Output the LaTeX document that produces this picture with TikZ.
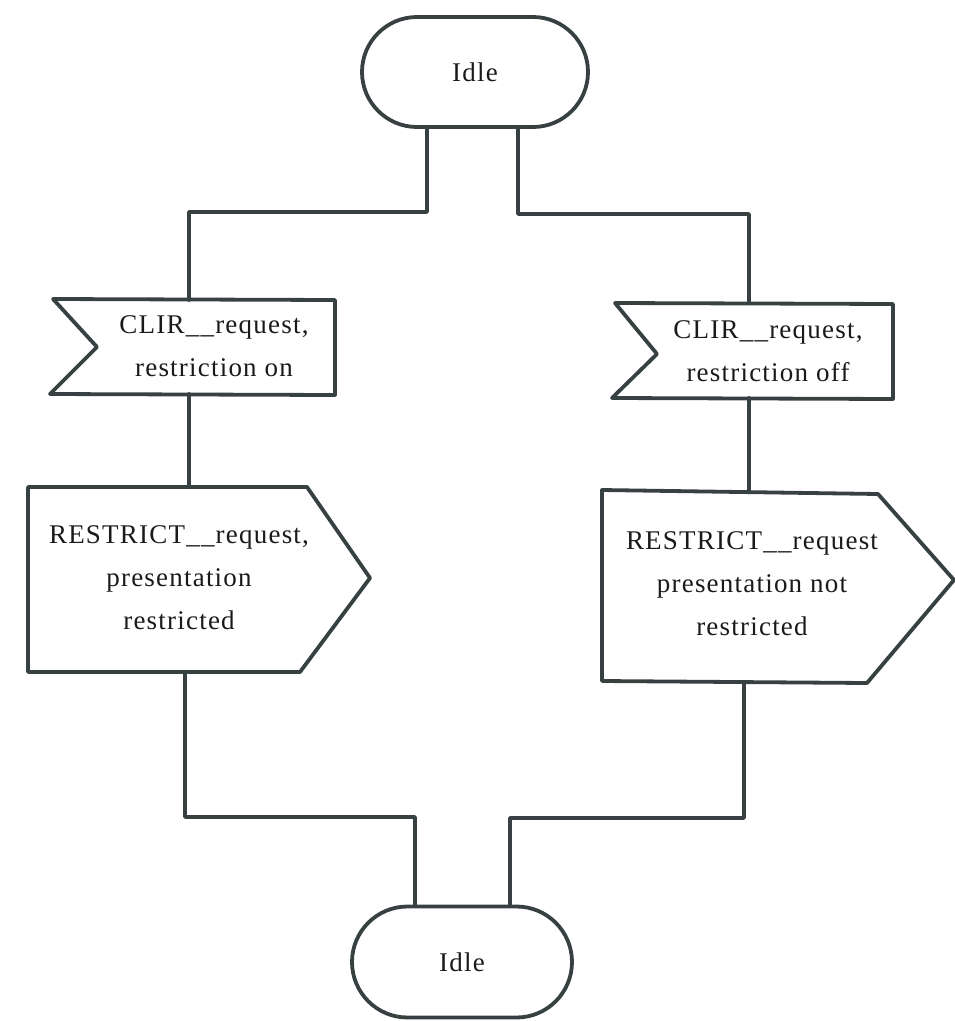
\documentclass[tikz,border=0pt]{standalone}
\usepackage{fontspec}
\setmainfont{Liberation Serif}
\newfontfamily\spaced[LetterSpace=4.5]{Liberation Serif}
\usetikzlibrary{shapes.misc}
\definecolor{ink}{RGB}{55,65,65}
\definecolor{txt}{RGB}{25,27,27}
\begin{document}
\begin{tikzpicture}[x=1pt,y=-1pt,
  line/.style={draw=ink,line width=3.8pt,line join=round,line cap=round},
  state/.style={rounded rectangle, draw=ink, line width=3.8pt, text=txt,
    font=\spaced\fontsize{27}{33}\selectfont, inner sep=0pt},
  lbl/.style={font=\spaced\fontsize{27}{43}\selectfont, text=txt, align=center, inner sep=0pt}]
\useasboundingbox (0,0) rectangle (955,1021);

% states
\node[state, minimum width=226pt, minimum height=110pt] (idle1) at (475,72) {Idle};
\node[state, minimum width=220pt, minimum height=111pt] (idle2) at (462,962) {Idle};

% left input signal
\draw[line] (53,299) -- (335,300) -- (335,395) -- (50,394) -- (97,347) -- cycle;
\node[lbl] (in1) at (214,346) {CLIR\_\_request,\\restriction on};
\coordinate (in1t) at (189,300);
\coordinate (in1b) at (189,394);

% right input signal
\draw[line] (615,303) -- (893,304) -- (893,399) -- (612,398) -- (657,354) -- cycle;
\node[lbl] (in2) at (768,351) {CLIR\_\_request,\\restriction off};
\coordinate (in2t) at (749,303);
\coordinate (in2b) at (749,398);

% left output signal
\draw[line] (28,487) -- (307,487) -- (370,578) -- (300,672) -- (28,672) -- cycle;
\node[lbl] (out1) at (179,578) {RESTRICT\_\_request,\\presentation\\restricted};
\coordinate (out1t) at (189,487);
\coordinate (out1b) at (185,672);

% right output signal
\draw[line] (602,490) -- (878,494) -- (954,580) -- (867,683) -- (602,681) -- cycle;
\node[lbl] (out2) at (752,584) {RESTRICT\_\_request\\presentation not\\restricted};
\coordinate (out2t) at (749,491);
\coordinate (out2b) at (744,682);

% junction corners
\coordinate (j1) at (189,212);
\coordinate (j2) at (749,214);
\coordinate (j3) at (185,817);
\coordinate (j4) at (744,818);

% connectors
\draw[line] ([xshift=-48pt]idle1.south) |- (j1) -- (in1t);
\draw[line] ([xshift=43pt]idle1.south) |- (j2) -- (in2t);
\draw[line] (in1b) -- (out1t);
\draw[line] (in2b) -- (out2t);
\draw[line] (out1b) -- (j3) -| ([xshift=-47pt]idle2.north);
\draw[line] (out2b) -- (j4) -| ([xshift=48pt]idle2.north);
\end{tikzpicture}
\end{document}
